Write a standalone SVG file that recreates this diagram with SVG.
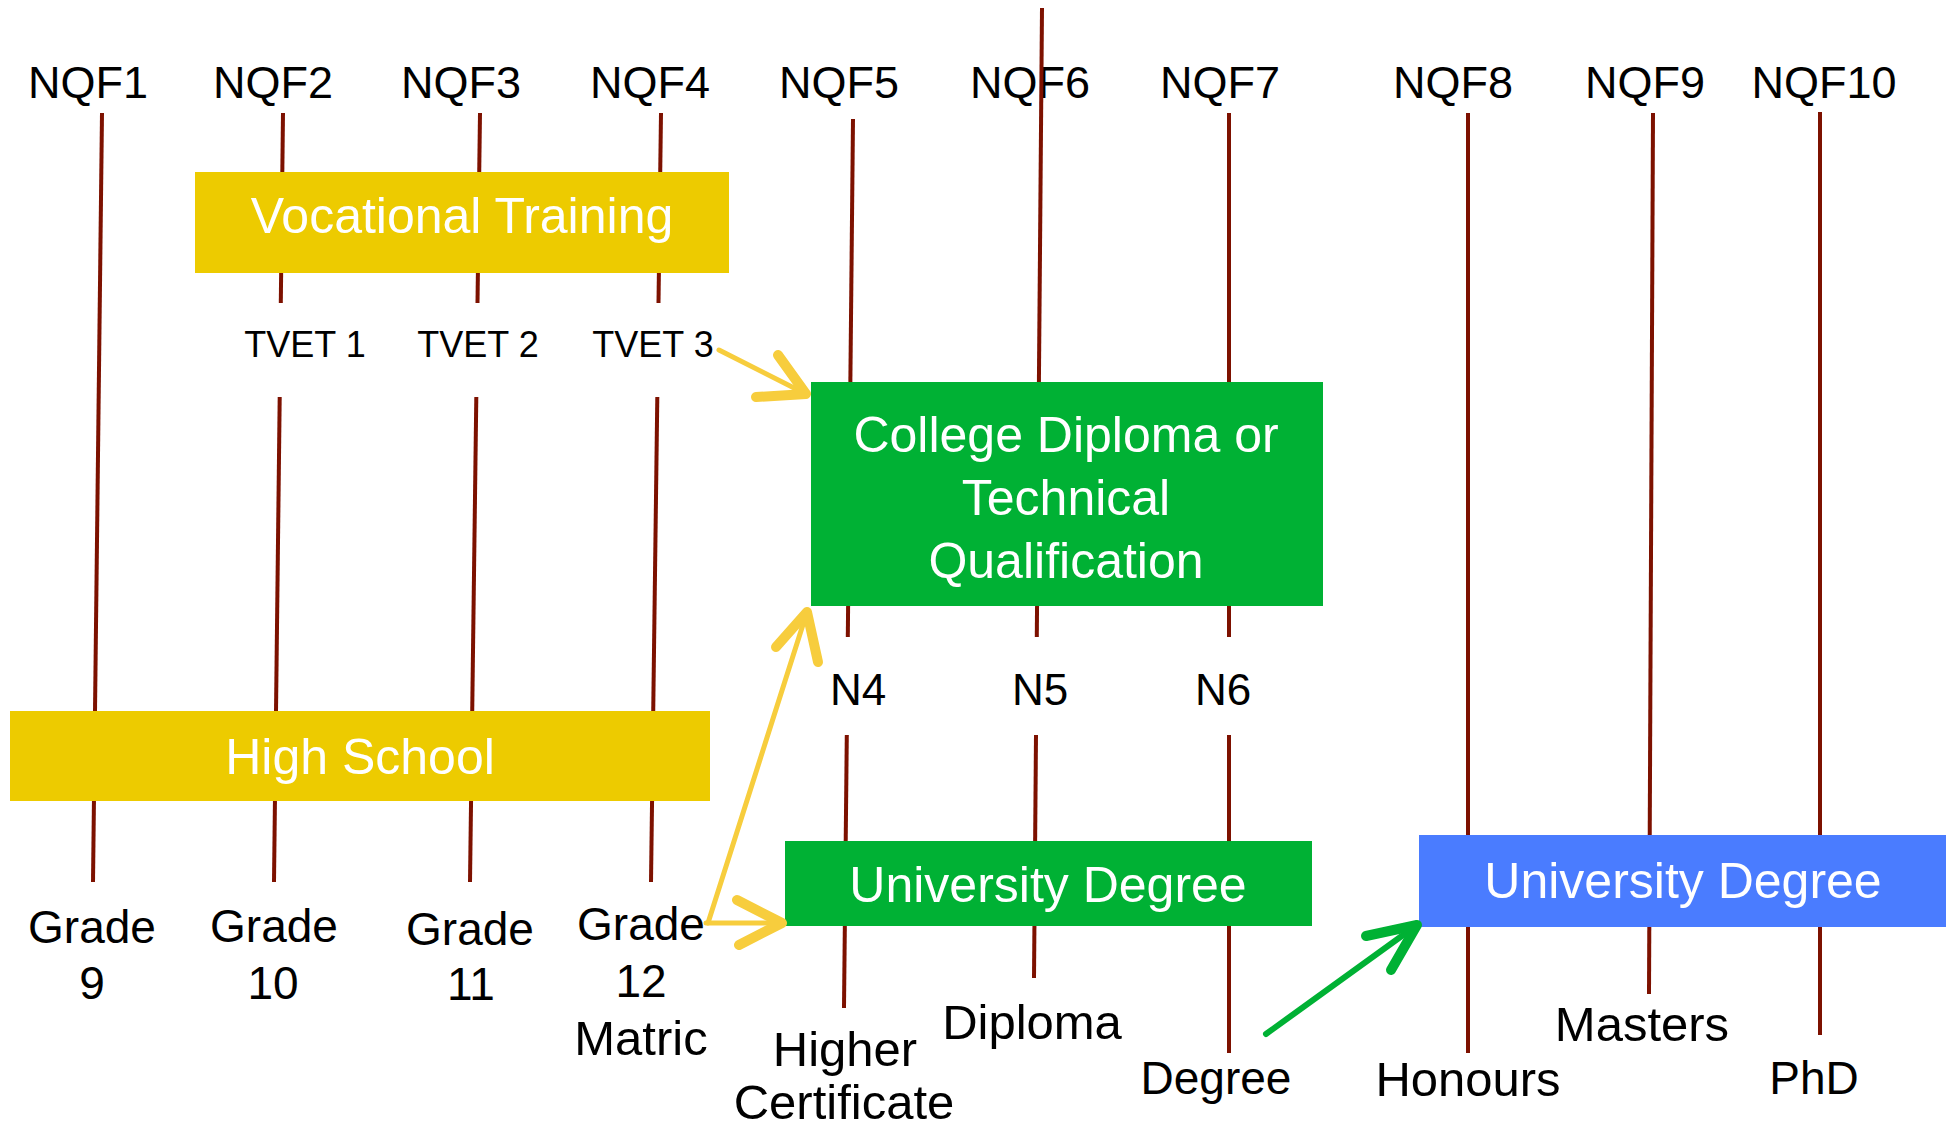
<svg xmlns="http://www.w3.org/2000/svg" width="1949" height="1130" viewBox="0 0 1949 1130">
<style>
.lbl{font-family:"Liberation Sans",Arial,sans-serif;fill:#000;text-anchor:middle}
.top{font-size:45px}
.sm{font-size:36px}
.nn{font-size:44px}
.bot{font-size:46px}
.bw{font-size:49px}
.btxt{font-family:"Liberation Sans",Arial,sans-serif;fill:#fff;text-anchor:middle;font-size:50px}
.ax{stroke:#7d1100;stroke-width:4;fill:none}
.ay{stroke:#f7cd3d;fill:none;stroke-linecap:round;stroke-linejoin:round}
.ag{stroke:#00b134;fill:none;stroke-linecap:round;stroke-linejoin:round}
.gold{fill:#edcb00}
.green{fill:#00b134}
.blue{fill:#4a7cff}
</style>
<rect width="1949" height="1130" fill="#fff"/>
<g id="labels">
<text class="lbl top" x="88" y="98">NQF1</text>
<text class="lbl top" x="273" y="98">NQF2</text>
<text class="lbl top" x="461" y="98">NQF3</text>
<text class="lbl top" x="650" y="98">NQF4</text>
<text class="lbl top" x="839" y="98">NQF5</text>
<text class="lbl top" x="1030" y="98">NQF6</text>
<text class="lbl top" x="1220" y="98">NQF7</text>
<text class="lbl top" x="1453" y="98">NQF8</text>
<text class="lbl top" x="1645" y="98">NQF9</text>
<text class="lbl top" x="1824" y="98">NQF10</text>
<text class="lbl sm" x="305" y="357">TVET 1</text>
<text class="lbl sm" x="478" y="357">TVET 2</text>
<text class="lbl sm" x="653" y="357">TVET 3</text>
<text class="lbl nn" x="858" y="705">N4</text>
<text class="lbl nn" x="1040" y="705">N5</text>
<text class="lbl nn" x="1223" y="705">N6</text>
<text class="lbl bot" x="92" y="943">Grade</text>
<text class="lbl bot" x="92" y="999">9</text>
<text class="lbl bot" x="274" y="942">Grade</text>
<text class="lbl bot" x="273" y="999">10</text>
<text class="lbl bot" x="470" y="945">Grade</text>
<text class="lbl bot" x="471" y="1000">11</text>
<text class="lbl bot" x="641" y="940">Grade</text>
<text class="lbl bot" x="641" y="997">12</text>
<text class="lbl bw" x="641" y="1055">Matric</text>
<text class="lbl bw" x="845" y="1066">Higher</text>
<text class="lbl bw" x="844" y="1119">Certificate</text>
<text class="lbl bw" x="1032" y="1039">Diploma</text>
<text class="lbl bot" x="1216" y="1094">Degree</text>
<text class="lbl bw" x="1468" y="1096">Honours</text>
<text class="lbl bw" x="1642" y="1041">Masters</text>
<text class="lbl bot" x="1814" y="1094">PhD</text>
</g>
<g id="axes">
<line class="ax" x1="102" y1="113" x2="93" y2="882"/>
<line class="ax" x1="283" y1="113" x2="280.8" y2="303"/>
<line class="ax" x1="279.7" y1="397" x2="274" y2="882"/>
<line class="ax" x1="480" y1="113" x2="477.5" y2="303"/>
<line class="ax" x1="476.3" y1="397" x2="470" y2="882"/>
<line class="ax" x1="661" y1="113" x2="658.5" y2="303"/>
<line class="ax" x1="657.3" y1="397" x2="651" y2="882"/>
<line class="ax" x1="853" y1="119" x2="847.8" y2="637"/>
<line class="ax" x1="846.8" y1="735" x2="844" y2="1008"/>
<line class="ax" x1="1042" y1="8" x2="1036.8" y2="637"/>
<line class="ax" x1="1036" y1="735" x2="1034" y2="978"/>
<line class="ax" x1="1229" y1="113" x2="1229" y2="637"/>
<line class="ax" x1="1229" y1="735" x2="1229" y2="1053"/>
<line class="ax" x1="1468" y1="113" x2="1468" y2="1053"/>
<line class="ax" x1="1653" y1="113" x2="1649" y2="994"/>
<line class="ax" x1="1820" y1="112" x2="1820" y2="1035"/>
</g>
<g id="vocational">
<rect class="gold" x="195" y="172" width="534" height="101"/>
<text class="btxt" x="462" y="233" font-size="51">Vocational Training</text>
</g>
<g id="highschool">
<rect class="gold" x="10" y="711" width="700" height="90"/>
<text class="btxt" x="360" y="774">High School</text>
</g>
<g id="college">
<rect class="green" x="811" y="382" width="512" height="224"/>
<text class="btxt" x="1066" y="452">College Diploma or</text>
<text class="btxt" x="1066" y="515">Technical</text>
<text class="btxt" x="1066" y="578" font-size="53">Qualification</text>
</g>
<g id="unigreen">
<rect class="green" x="785" y="841" width="527" height="85"/>
<text class="btxt" x="1048" y="902">University Degree</text>
</g>
<g id="uniblue">
<rect class="blue" x="1419" y="835" width="527" height="92"/>
<text class="btxt" x="1683" y="898">University Degree</text>
</g>
<g id="connectors">
<path class="ay" stroke-width="5" d="M719 350 L806 394"/>
<path class="ay" stroke-width="10" d="M778 355 L806 394 L756 397"/>
<path class="ay" stroke-width="5" d="M708 923 L807 612"/>
<path class="ay" stroke-width="10" d="M776 647 L807 612 L818 662"/>
<path class="ay" stroke-width="5" d="M706 923 L782 923"/>
<path class="ay" stroke-width="10" d="M737 900 L782 923 L739 945"/>
<path class="ag" stroke-width="6" d="M1266 1034 L1417 925"/>
<path class="ag" stroke-width="10" d="M1366 936 L1417 925 L1391 970"/>
</g>
</svg>
